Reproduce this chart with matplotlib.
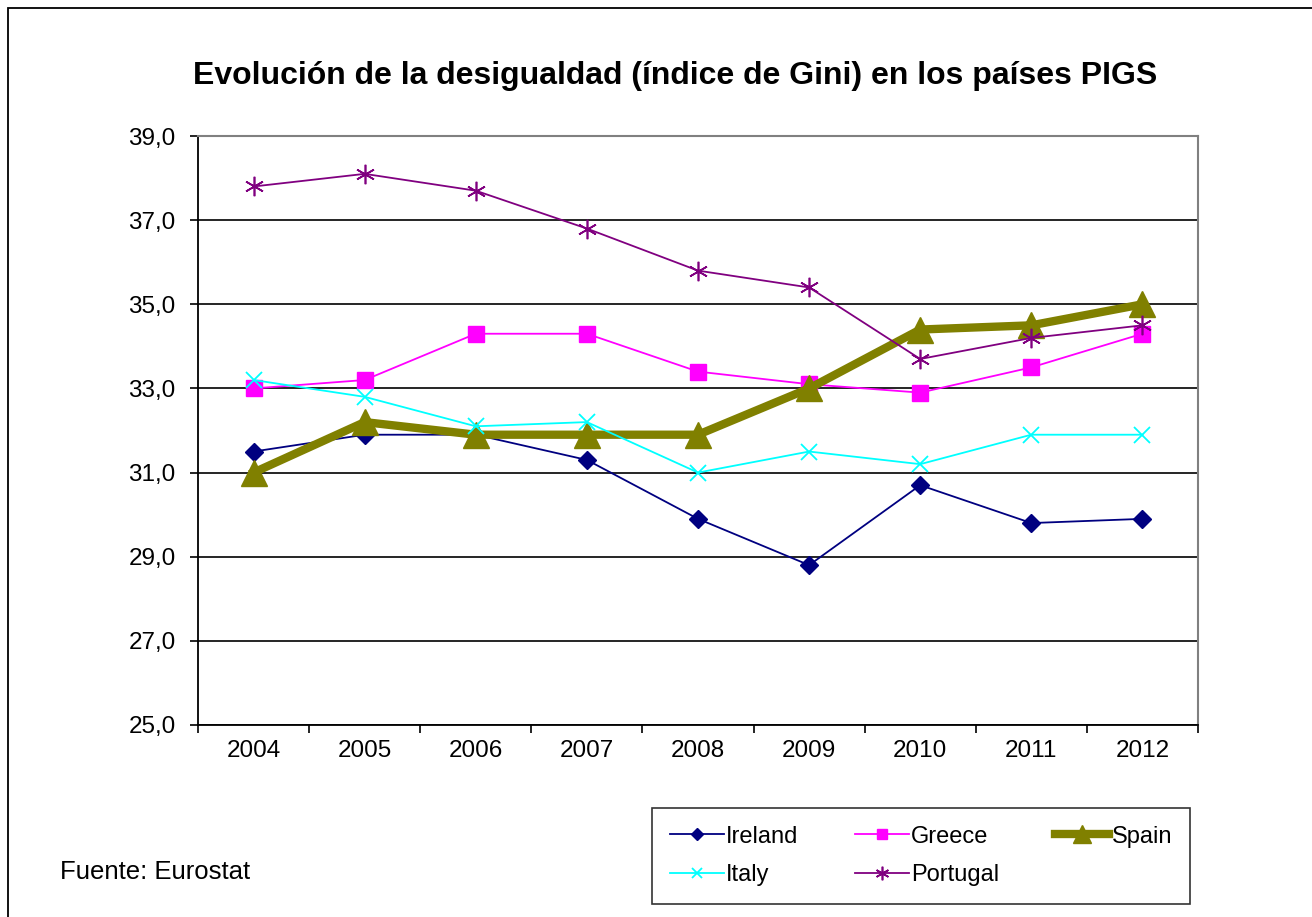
import matplotlib.pyplot as plt
from matplotlib.patches import Rectangle

plt.rcParams['font.family'] = ['Liberation Sans', 'DejaVu Sans']

# datos (índice de Gini, Eurostat)
anos = ['2004', '2005', '2006', '2007', '2008', '2009', '2010', '2011', '2012']
ireland = [31.5, 31.9, 31.9, 31.3, 29.9, 28.8, 30.7, 29.8, 29.9]
greece = [33.0, 33.2, 34.3, 34.3, 33.4, 33.1, 32.9, 33.5, 34.3]
spain = [31.0, 32.2, 31.9, 31.9, 31.9, 33.0, 34.4, 34.5, 35.0]
italy = [33.2, 32.8, 32.1, 32.2, 31.0, 31.5, 31.2, 31.9, 31.9]
portugal = [37.8, 38.1, 37.7, 36.8, 35.8, 35.4, 33.7, 34.2, 34.5]
y_ticks = [25, 27, 29, 31, 33, 35, 37, 39]

fig = plt.figure(figsize=(13.12, 9.17), dpi=100)
ax = fig.add_axes([198/1312, 1-725/917, 1000/1312, 589/917])

x = range(len(anos))
l_ie, = ax.plot(x, ireland, color='#000080', lw=1.3, marker='D', ms=9, label='Ireland')
l_gr, = ax.plot(x, greece, color='#FF00FF', lw=1.3, marker='s', ms=11, label='Greece')
l_es, = ax.plot(x, spain, color='#808000', lw=6, marker='^', ms=19, label='Spain')
l_it, = ax.plot(x, italy, color='#00FFFF', lw=1.3, marker='x', ms=11, mew=1.3, label='Italy')
l_pt, = ax.plot(x, portugal, color='#800080', lw=1.3, marker=(6, 2, 0), ms=14, mew=1.2,
                label='Portugal')

ax.set_xlim(-0.5, len(anos) - 0.5)
ax.set_ylim(25, 39)
ax.set_yticks(y_ticks)
ax.set_yticklabels([f'{v:.1f}'.replace('.', ',') for v in y_ticks], fontsize=17.5)
ax.yaxis.grid(True, color='black', lw=1.2)
ax.set_axisbelow(True)

# marcas entre categorías, estilo Excel
ax.set_xticks([i + 0.5 for i in range(-1, len(anos))])
ax.set_xticklabels([])
ax.set_xticks(list(x), minor=True)
ax.set_xticklabels(anos, minor=True, fontsize=17.5)
ax.tick_params(axis='x', which='minor', length=0, pad=11)
ax.tick_params(axis='x', which='major', length=6, width=1.2, direction='out')
ax.tick_params(axis='y', length=6, width=1.2, pad=10)

for s in ['left', 'bottom']:
    ax.spines[s].set_color('black')
    ax.spines[s].set_linewidth(1.3)
for s in ['top', 'right']:
    ax.spines[s].set_color('#808080')
    ax.spines[s].set_linewidth(1.5)

fig.text(675/1312, 1-76/917, 'Evolución de la desigualdad (índice de Gini) en los países PIGS',
         ha='center', va='center', fontsize=23, fontweight='bold')
fig.text(60/1312, 1-872/917, 'Fuente: Eurostat', ha='left', va='center', fontsize=18.5)

# orden para que las filas queden: Ireland, Greece, Spain / Italy, Portugal
handles = [l_ie, l_it, l_gr, l_pt, l_es]
leg = fig.legend(handles=handles, labels=[h.get_label() for h in handles],
                 loc='upper left', bbox_to_anchor=(652/1312, 1-808/917, 538/1312, 0.0),
                 mode='expand', ncol=3, fontsize=17, frameon=True, fancybox=False,
                 edgecolor='black', handlelength=2.3, handletextpad=0.1,
                 borderpad=0.75, labelspacing=0.7, markerscale=0.7, borderaxespad=0)
leg.get_frame().set_linewidth(1.2)

fig.patches.append(Rectangle((8/1312, -0.1), 1.2, 1 - 8/917 + 0.1, transform=fig.transFigure,
                             fill=False, edgecolor='black', lw=1.3))

plt.savefig('out.png', dpi=100)
